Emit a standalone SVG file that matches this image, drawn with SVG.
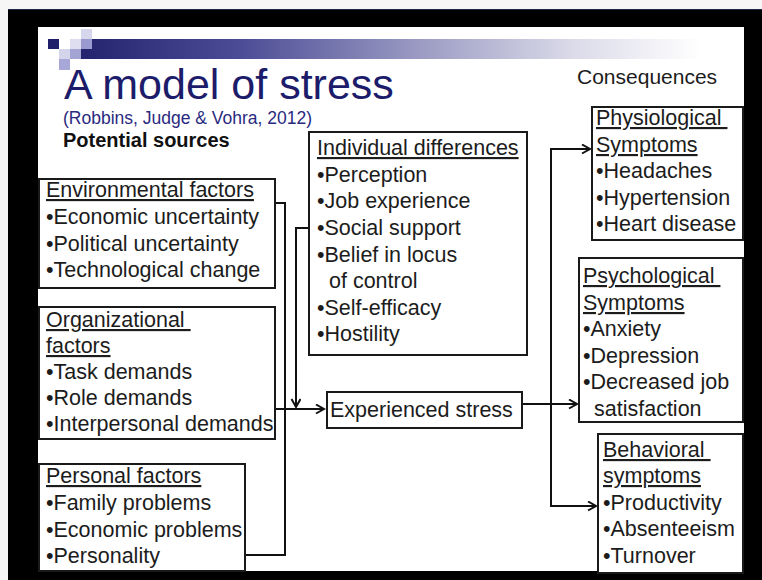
<svg xmlns="http://www.w3.org/2000/svg" width="762" height="580" viewBox="0 0 762 580">
  <defs>
    <linearGradient id="bar" x1="0" y1="0" x2="1" y2="0">
      <stop offset="0" stop-color="#23236e"/>
      <stop offset="0.25" stop-color="#4a4a95"/>
      <stop offset="0.55" stop-color="#9c9cc4"/>
      <stop offset="0.8" stop-color="#dcdcea"/>
      <stop offset="1" stop-color="#ffffff"/>
    </linearGradient>
    <marker id="arrow" markerUnits="userSpaceOnUse" markerWidth="12" markerHeight="12" refX="9" refY="5" orient="auto">
      <path d="M1,0.5 L9,5 L1,9.5" fill="none" stroke="#111" stroke-width="2"/>
    </marker>
    <style>
      .box { fill: #fff; stroke: #1a1a1a; stroke-width: 2; }
      .t { font-family: "Liberation Sans", Arial, sans-serif; font-size: 21.5px; fill: #1c1c1c; }
      .h { text-decoration: underline; }
      .wire { fill: none; stroke: #111; stroke-width: 2; }
    </style>
  </defs>

  <!-- frame and slide -->
  <rect x="0" y="0" width="762" height="580" fill="#f6f6f6"/>
  <rect x="8" y="9" width="754" height="571" fill="#000"/>
  <line x1="8" y1="9.5" x2="762" y2="9.5" stroke="#1d2a48" stroke-width="1"/>
  <rect x="38" y="27" width="706" height="544" fill="#fff"/>

  <!-- header decoration -->
  <g id="header-decoration">
    <rect x="81" y="39" width="620" height="20" fill="url(#bar)"/>
    <rect x="48" y="39" width="11" height="10" fill="#1f1f6b"/>
    <rect x="81" y="29" width="11" height="10" fill="#d6d6ec"/>
    <rect x="70" y="39" width="11" height="10" fill="#dedef0"/>
    <rect x="81" y="39" width="11" height="10" fill="#9a9ad0"/>
    <rect x="59" y="49" width="11" height="10" fill="#d4d4ea"/>
    <rect x="70" y="49" width="11" height="10" fill="#a4a4d4"/>
    <rect x="59" y="59" width="11" height="11" fill="#a8a8d8"/>
  </g>

  <!-- titles -->
  <g id="title">
    <text x="64" y="99" font-family="'Liberation Sans', Arial, sans-serif" font-size="43" fill="#1c1c6b">A model of stress</text>
    <text x="63" y="124" font-family="'Liberation Sans', Arial, sans-serif" font-size="17.5" fill="#2a2a80">(Robbins, Judge &amp; Vohra, 2012)</text>
    <text x="63" y="147" font-family="'Liberation Sans', Arial, sans-serif" font-size="20" font-weight="bold" fill="#111">Potential sources</text>
    <text x="577" y="84" font-family="'Liberation Sans', Arial, sans-serif" font-size="21" fill="#1c1c1c">Consequences</text>
  </g>

  <!-- connectors -->
  <g id="connectors">
    <path class="wire" d="M275,203 H285 V555 H245"/>
    <path class="wire" d="M275,409 H324" marker-end="url(#arrow)"/>
    <path class="wire" d="M309,228 H296 V407" marker-end="url(#arrow)"/>
    <path class="wire" d="M522,404 H577" marker-end="url(#arrow)"/>
    <path class="wire" d="M551,404 V149 H590" marker-end="url(#arrow)"/>
    <path class="wire" d="M551,404 V506 H596" marker-end="url(#arrow)"/>
  </g>

  <g id="environmental">
    <rect class="box" x="39" y="179" width="236" height="109"/>
    <text class="t" x="46"><tspan class="h" x="46" y="197">Environmental factors</tspan><tspan x="46" y="224">•Economic uncertainty</tspan><tspan x="46" y="251">•Political uncertainty</tspan><tspan x="46" y="277">•Technological change</tspan></text>
  </g>

  <g id="organizational">
    <rect class="box" x="39" y="307" width="236" height="132"/>
    <text class="t"><tspan class="h" x="46" y="327">Organizational&#160;</tspan><tspan class="h" x="46" y="353">factors</tspan><tspan x="46" y="379">•Task demands</tspan><tspan x="46" y="405">•Role demands</tspan><tspan x="46" y="431">•Interpersonal demands</tspan></text>
  </g>

  <g id="personal">
    <rect class="box" x="39" y="464" width="206" height="107"/>
    <text class="t"><tspan class="h" x="46" y="483">Personal factors</tspan><tspan x="46" y="510">•Family problems</tspan><tspan x="46" y="537">•Economic problems</tspan><tspan x="46" y="563">•Personality</tspan></text>
  </g>

  <g id="individual">
    <rect class="box" x="309" y="132" width="218" height="223"/>
    <text class="t"><tspan class="h" x="317" y="155">Individual differences</tspan><tspan x="317" y="182">•Perception</tspan><tspan x="317" y="208">•Job experience</tspan><tspan x="317" y="235">•Social support</tspan><tspan x="317" y="262">•Belief in locus</tspan><tspan x="329" y="288">of control</tspan><tspan x="317" y="315">•Self-efficacy</tspan><tspan x="317" y="341">•Hostility</tspan></text>
  </g>

  <g id="experienced-stress">
    <rect class="box" x="327" y="392" width="195" height="36"/>
    <text class="t" x="330" y="417">Experienced stress</text>
  </g>

  <g id="physiological">
    <rect class="box" x="592" y="107" width="151" height="133"/>
    <text class="t"><tspan class="h" x="596" y="125">Physiological&#160;</tspan><tspan class="h" x="596" y="152">Symptoms</tspan><tspan x="596" y="178">•Headaches</tspan><tspan x="596" y="205">•Hypertension</tspan><tspan x="596" y="231">•Heart disease</tspan></text>
  </g>

  <g id="psychological">
    <rect class="box" x="579" y="258" width="164" height="164"/>
    <text class="t"><tspan class="h" x="583" y="283">Psychological&#160;</tspan><tspan class="h" x="583" y="310">Symptoms</tspan><tspan x="583" y="336">•Anxiety</tspan><tspan x="583" y="363">•Depression</tspan><tspan x="583" y="389">•Decreased job</tspan><tspan x="594" y="416">satisfaction</tspan></text>
  </g>

  <g id="behavioral">
    <rect class="box" x="598" y="434" width="145" height="139"/>
    <text class="t"><tspan class="h" x="603" y="457">Behavioral&#160;</tspan><tspan class="h" x="603" y="483">symptoms</tspan><tspan x="603" y="510">•Productivity</tspan><tspan x="603" y="536">•Absenteeism</tspan><tspan x="603" y="563">•Turnover</tspan></text>
  </g>
</svg>
